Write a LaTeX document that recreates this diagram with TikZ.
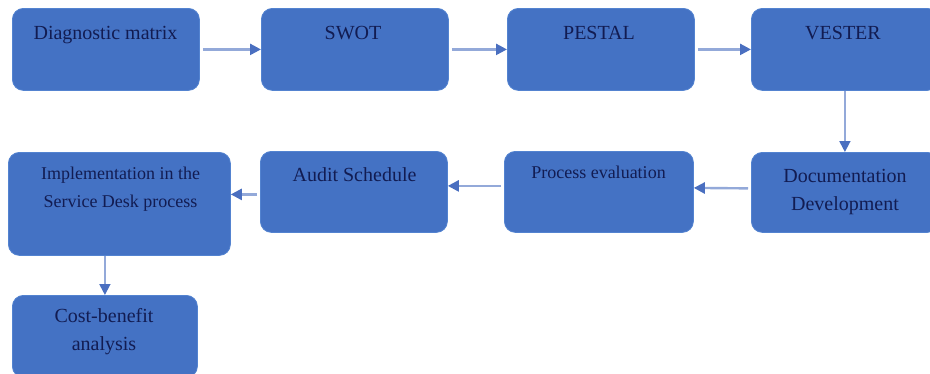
\documentclass[tikz,border=0pt]{standalone}
\usepackage{fontspec}
\setmainfont{Liberation Serif}
\usetikzlibrary{arrows.meta}
\definecolor{boxfill}{HTML}{4472C4}
\definecolor{boxedge}{HTML}{5383D0}
\definecolor{txtcol}{HTML}{121C52}
\definecolor{linecol}{HTML}{93A9D9}
\definecolor{tipcol}{HTML}{4A6FC0}
\begin{document}
\begin{tikzpicture}[x=1pt,y=-1pt,
  box/.style={draw=boxedge, line width=0.8pt, fill=boxfill, rounded corners=11pt, anchor=north west, inner sep=0pt},
  lbl/.style={text=txtcol, font=\fontsize{20}{28}\selectfont, align=center, anchor=base, inner sep=0pt},
  lblsmall/.style={lbl, font=\fontsize{18}{28}\selectfont},
  flow/.style={draw=linecol, line width=2.4pt, shorten <=3pt, -{Triangle[length=11pt,width=11pt,color=tipcol]}},
  vflow/.style={flow, line width=1.8pt, shorten <=0pt}]
\useasboundingbox (0,0) rectangle (930,373);
% boxes
\node[box, minimum width=187pt, minimum height=82pt] (b1) at (12,8) {};
\node[box, minimum width=187pt, minimum height=82pt] (b2) at (261,8) {};
\node[box, minimum width=187pt, minimum height=82pt] (b3) at (507,8) {};
\node[box, minimum width=187pt, minimum height=82pt] (b4) at (751,8) {};
\node[box, minimum width=187pt, minimum height=80pt] (b5) at (751,152) {};
\node[box, minimum width=189pt, minimum height=81pt] (b6) at (504,151) {};
\node[box, minimum width=187pt, minimum height=81pt] (b7) at (260,151) {};
\node[box, minimum width=222pt, minimum height=103pt] (b8) at (8,152) {};
\node[box, minimum width=185pt, minimum height=82pt] (b9) at (12,295) {};
% labels (base anchor = baseline of the last line)
\node[lbl] (t1) at (105.5,39) {Diagnostic matrix};
\node[lbl] (t2) at (353,39) {SWOT};
\node[lbl] (t3) at (599,39) {PESTAL};
\node[lbl] (t4) at (843,39) {VESTER};
\node[lbl] (t5) at (845,210) {Documentation\\Development};
\node[lblsmall] (t6) at (598.5,178) {Process evaluation};
\node[lbl] (t7) at (354.5,181) {Audit Schedule};
\node[lblsmall] (t8) at (120.5,207) {Implementation in the\\Service Desk process};
\node[lbl] (t9) at (104,350) {Cost-benefit\\analysis};
% connectors
\draw[flow] (b1.east) -- (b2.west);
\draw[flow] (b2.east) -- (b3.west);
\draw[flow] (b3.east) -- (b4.west);
\draw[vflow] (b4.south) -- (b5.north);
\draw[flow] ([yshift=4pt]b5.west) -- ([yshift=4pt]b6.east);
\draw[flow] ([yshift=6pt]b6.west) -- ([yshift=6pt]b7.east);
\draw[flow] ([yshift=-2.5pt]b7.west) -- ([yshift=-2.5pt]b7.west -| b8.east);
\draw[vflow] (b9.north |- b8.south) -- (b9.north);
\end{tikzpicture}
\end{document}
